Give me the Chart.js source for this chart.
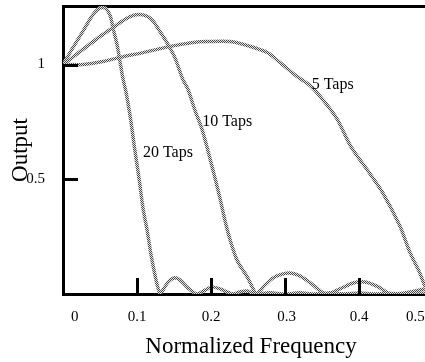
<!DOCTYPE html>
<html><head><meta charset="utf-8">
<script src="https://cdn.jsdelivr.net/npm/chart.js@4"></script>
<style>html,body{margin:0;padding:0;background:#fff;overflow:hidden;width:425px;height:362px}#c{display:block}</style>
</head><body>
<canvas id="c" width="439" height="362"></canvas>
<script>
// ---- data ----
const taps20X = [0,0.012,0.026,0.039,0.047,0.053,0.059,0.064,0.068,0.073,0.077,0.081,0.085,0.091,0.097,0.103,0.108,0.114,0.119,0.124,0.128,0.131,0.135,0.142,0.150,0.158,0.169,0.181,0.192,0.201,0.212,0.230,0.239,0.249,0.259,0.280,0.300,0.320,0.340,0.360,0.380,0.400,0.420,0.440,0.460,0.489];
const taps20Y = [1.0,1.066,1.14,1.21,1.24,1.249,1.24,1.21,1.153,1.087,1.013,0.939,0.882,0.769,0.629,0.498,0.376,0.271,0.17,0.087,0.031,0.004,0.017,0.052,0.07,0.061,0.026,0,0.017,0.031,0.022,0,0.009,0.013,0,0.005,0,0.005,0,0.004,0,0.004,0,0.003,0,0.003];

const taps10X = [0,0.016,0.034,0.050,0.068,0.084,0.095,0.104,0.114,0.122,0.131,0.141,0.151,0.162,0.169,0.178,0.188,0.199,0.211,0.222,0.235,0.249,0.257,0.261,0.273,0.286,0.305,0.320,0.336,0.355,0.374,0.392,0.408,0.426,0.442,0.462,0.489];
const taps10Y = [1.0,1.039,1.083,1.122,1.162,1.197,1.214,1.218,1.21,1.188,1.144,1.092,1.031,0.934,0.891,0.803,0.716,0.585,0.432,0.279,0.148,0.074,0.022,0,0.039,0.074,0.092,0.079,0.044,0,0.022,0.048,0.052,0.031,0,0.004,0.022];

const taps5X = [0,0.027,0.054,0.077,0.108,0.145,0.176,0.195,0.226,0.253,0.276,0.293,0.316,0.334,0.351,0.370,0.389,0.411,0.432,0.455,0.469,0.482,0.489];
const taps5Y = [1.0,1.0,1.013,1.031,1.052,1.079,1.096,1.1,1.1,1.079,1.052,1.009,0.948,0.908,0.847,0.764,0.642,0.541,0.441,0.297,0.179,0.092,0.031];

const xTickLabels = ['0','0.1','0.2','0.3','0.4','0.5'];
const xTickLabelAt = [0.016,0.1,0.2,0.302,0.4,0.476];
const xTickMarks = [0.1,0.2,0.3,0.4];
const yTickValues = [0.5,1];
const annText = ['5 Taps','10 Taps','20 Taps'];
const annX = [0.336,0.188,0.108];
const annY = [0.913,0.751,0.616];

// ---- styling ----
const SERIF = '"Liberation Serif", "Times New Roman", serif';
function stipple(){
  const c = document.createElement('canvas'); c.width = 2; c.height = 2;
  const g = c.getContext('2d');
  g.fillStyle = '#e4e4e4'; g.fillRect(0,0,2,2);
  g.fillStyle = '#4a4a4a'; g.fillRect(0,0,1,1); g.fillRect(1,1,1,1);
  return document.getElementById('c').getContext('2d').createPattern(c,'repeat');
}
const pat = stipple();
const zip = (xs, ys) => xs.map((x,i)=>({x, y: ys[i]}));
function pads(s){ s.paddingLeft = 0; s.paddingTop = 0; s.paddingBottom = 0; s.paddingRight = 0; }

const inner = {
  id: 'inner',
  afterDatasetsDraw(chart){
    const {ctx, chartArea: a} = chart;
    const x = chart.scales.x, y = chart.scales.y;
    ctx.save();
    ctx.strokeStyle = '#000'; ctx.lineWidth = 3; ctx.lineCap = 'butt';
    xTickMarks.forEach(v => {
      const px = Math.round(x.getPixelForValue(v)) + 0.5;
      ctx.beginPath(); ctx.moveTo(px, a.bottom); ctx.lineTo(px, a.bottom - 16); ctx.stroke();
    });
    yTickValues.forEach(v => {
      const py = Math.round(y.getPixelForValue(v)) + 0.5;
      ctx.beginPath(); ctx.moveTo(a.left, py); ctx.lineTo(a.left + 15, py); ctx.stroke();
    });
    ctx.fillStyle = '#000'; ctx.font = '16px ' + SERIF;
    ctx.textAlign = 'left'; ctx.textBaseline = 'middle';
    annText.forEach((t,i) => ctx.fillText(t, x.getPixelForValue(annX[i]), y.getPixelForValue(annY[i])));
    ctx.restore();
  }
};

const ds = (label, xs, ys) => ({label, data: zip(xs, ys), borderColor: pat, borderWidth: 3.5, pointRadius: 0, tension: 0.3, fill: false});

new Chart(document.getElementById('c'), {
  type: 'line',
  data: { datasets: [ ds('20 Taps', taps20X, taps20Y), ds('10 Taps', taps10X, taps10Y), ds('5 Taps', taps5X, taps5Y) ] },
  options: {
    responsive: false, animation: false, devicePixelRatio: 1,
    layout: { padding: 0 },
    plugins: { legend: { display: false }, tooltip: { enabled: false } },
    scales: {
      x: {
        type: 'linear', position: 'bottom', min: 0, max: 0.508,
        afterFit: s => { s.height = 68; pads(s); },
        afterBuildTicks: s => { s.ticks = xTickLabelAt.map(v => ({value: v})); },
        ticks: { callback: (v, i) => xTickLabels[i], padding: 14, autoSkip: false, maxRotation: 0,
                 font: { family: SERIF, size: 15 }, color: '#000' },
        grid: { display: false, drawTicks: false },
        border: { display: true, color: '#000', width: 3 },
        title: { display: true, text: 'Normalized Frequency', color: '#000',
                 font: { family: SERIF, size: 23 }, padding: { top: 0, bottom: 1 } }
      },
      y: {
        type: 'linear', position: 'left', min: 0, max: 1.255,
        afterFit: s => { s.width = 63; pads(s); },
        afterBuildTicks: s => { s.ticks = yTickValues.map(v => ({value: v})); },
        ticks: { callback: v => String(v), padding: 18, autoSkip: false,
                 font: { family: SERIF, size: 15 }, color: '#000' },
        grid: { display: false, drawTicks: false },
        border: { display: true, color: '#000', width: 3 },
        title: { display: true, text: 'Output', color: '#000',
                 font: { family: SERIF, size: 23 }, padding: { top: 7, bottom: 0 } }
      },
      xTop: {
        axis: 'x', type: 'linear', position: 'top', display: true,
        afterFit: s => { s.height = 6; pads(s); },
        ticks: { display: false },
        grid: { display: false, drawTicks: false },
        border: { display: true, color: '#000', width: 3 }
      }
    }
  },
  plugins: [inner]
});
</script>
</body></html>
